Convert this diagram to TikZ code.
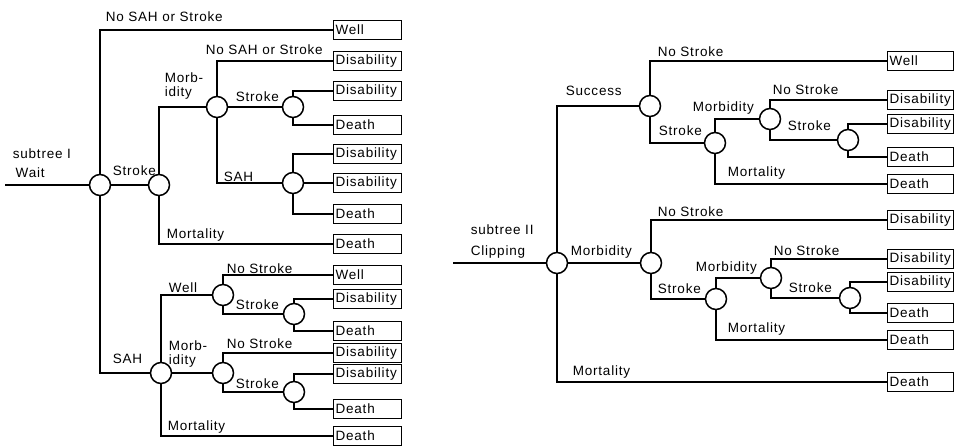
\documentclass[tikz,border=0pt]{standalone}
\usepackage{fontspec}
\setmainfont[LetterSpace=6]{Liberation Sans}

\begin{document}
\begin{tikzpicture}[x=1pt,y=-1pt,line width=1.5pt,
    every node/.style={font=\fontsize{13.5}{14}\selectfont},
    chance/.style={draw,circle,minimum size=21pt,inner sep=0pt,fill=white},
    leaf/.style={draw,rectangle,anchor=west,text width=64pt,inner xsep=2pt,
        inner ysep=0pt,minimum height=19pt,line width=1.1pt},
    lab/.style={anchor=base west,inner sep=0pt}]
    \useasboundingbox (0,0) rectangle (955,446);
    % subtree I
    \coordinate (rootI) at (5,185);
    \node[chance] (A) at (100,185) {};
    \node[chance] (B) at (159,185) {};
    \node[chance] (C) at (217,107) {};
    \node[chance] (D) at (293,107) {};
    \node[chance] (E) at (293,183) {};
    \node[chance] (F) at (223,295) {};
    \node[chance] (G) at (161,373) {};
    \node[chance] (H) at (294,314) {};
    \node[chance] (I) at (223,373) {};
    \node[chance] (J) at (294,392) {};
    \foreach \n/\y/\t in {1/30/Well,2/61/Disability,3/91/Disability,4/125/Death,
        5/154/Disability,6/183/Disability,7/214/Death,8/244/Death,9/275/Well,
        10/299/Disability,11/331/Death,12/353/Disability,13/374/Disability,
        14/409/Death,15/436/Death}
        \node[leaf] (e\n) at (333,\y) {\t};
    \draw (rootI) -- (A);
    \draw (A) |- (e1);
    \draw (A) -- (B);
    \draw (A) |- (G);
    \draw (B) |- (C);
    \draw (B) |- (e8);
    \draw (C) |- (e2);
    \draw (C) -- (D);
    \draw (C) |- (E);
    \draw (D) |- (e3);
    \draw (D) |- (e4);
    \draw (E) |- (e5);
    \draw (E) -- (e6);
    \draw (E) |- (e7);
    \draw (G) |- (F);
    \draw (G) -- (I);
    \draw (G) |- (e15);
    \draw (F) |- (e9);
    \draw (F) |- (H);
    \draw (H) |- (e10);
    \draw (H) |- (e11);
    \draw (I) |- (e12);
    \draw (I) |- (J);
    \draw (J) |- (e13);
    \draw (J) |- (e14);
    \node[lab] (tI) at (12,159) {subtree I};
    \node[lab] (tIa) at (15,178) {Wait};
    \node[lab] (nA1) at (105,22) {No SAH or Stroke};
    \node[lab] (nA2) at (112,176) {Stroke};
    \node[lab] (nA3) at (112,363) {SAH};
    \node[lab] (nB1) at (164,83) {Morb-};
    \node[lab] (nB2) at (164,97) {idity};
    \node[lab] (nB3) at (166,239) {Mortality};
    \node[lab] (nC1) at (205,55) {No SAH or Stroke};
    \node[lab] (nC2) at (235,102) {Stroke};
    \node[lab] (nC3) at (223,182) {SAH};
    \node[lab] (nG1) at (168,292) {Well};
    \node[lab] (nG2) at (168,350) {Morb-};
    \node[lab] (nG3) at (168,364) {idity};
    \node[lab] (nG4) at (167,430) {Mortality};
    \node[lab] (nF1) at (226,273) {No Stroke};
    \node[lab] (nF2) at (235,309) {Stroke};
    \node[lab] (nI1) at (226,348) {No Stroke};
    \node[lab] (nI2) at (235,388) {Stroke};
    % subtree II
    \coordinate (rootII) at (453,263);
    \node[chance] (O) at (557,263) {};
    \node[chance] (K) at (650,106) {};
    \node[chance] (L) at (715,143) {};
    \node[chance] (M) at (770,119) {};
    \node[chance] (N) at (848,140) {};
    \node[chance] (P) at (651,263) {};
    \node[chance] (Q) at (716,299) {};
    \node[chance] (R) at (771,278) {};
    \node[chance] (S) at (850,298) {};
    \foreach \n/\y/\t in {1/61/Well,2/100/Disability,3/124/Disability,4/157/Death,
        5/184/Death,6/220/Disability,7/259/Disability,8/282/Disability,
        9/313/Death,10/340/Death,11/382/Death}
        \node[leaf,text width=62pt] (f\n) at (887,\y) {\t};
    \draw (rootII) -- (O);
    \draw (O) |- (K);
    \draw (O) -- (P);
    \draw (O) |- (f11);
    \draw (K) |- (f1);
    \draw (K) |- (L);
    \draw (L) |- (M);
    \draw (L) |- (f5);
    \draw (M) |- (f2);
    \draw (M) |- (N);
    \draw (N) |- (f3);
    \draw (N) |- (f4);
    \draw (P) |- (f6);
    \draw (P) |- (Q);
    \draw (Q) |- (R);
    \draw (Q) |- (f10);
    \draw (R) |- (f7);
    \draw (R) |- (S);
    \draw (S) |- (f8);
    \draw (S) |- (f9);
    \node[lab] (tII) at (470,235) {subtree II};
    \node[lab] (tIIa) at (470,256) {Clipping};
    \node[lab] (nO1) at (565,96) {Success};
    \node[lab] (nO2) at (570,256) {Morbidity};
    \node[lab] (nO3) at (572,375) {Mortality};
    \node[lab] (nK1) at (657,57) {No Stroke};
    \node[lab] (nK2) at (658,136) {Stroke};
    \node[lab] (nL1) at (692,112) {Morbidity};
    \node[lab] (nL2) at (727,177) {Mortality};
    \node[lab] (nM1) at (772,95) {No Stroke};
    \node[lab] (nM2) at (787,131) {Stroke};
    \node[lab] (nP1) at (657,217) {No Stroke};
    \node[lab] (nP2) at (657,293) {Stroke};
    \node[lab] (nQ1) at (695,271) {Morbidity};
    \node[lab] (nQ2) at (727,332) {Mortality};
    \node[lab] (nR1) at (773,255) {No Stroke};
    \node[lab] (nR2) at (788,292) {Stroke};
\end{tikzpicture}
\end{document}
